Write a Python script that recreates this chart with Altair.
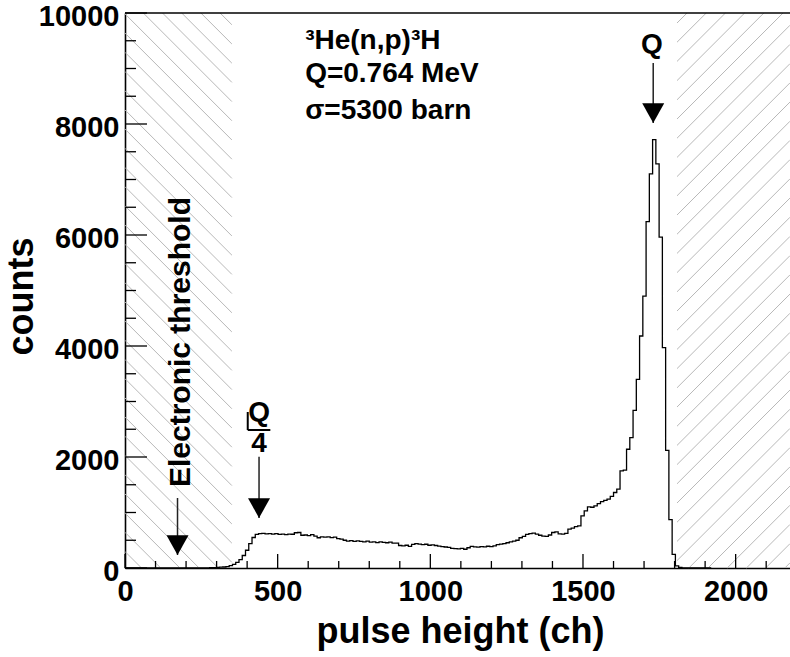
import altair as alt
import pandas as pd
import numpy as np

# ---------------- data ----------------
BIN_WIDTH = 2048 / 192          # channel width of one histogram bin
COUNTS = [
    0, 0, 0, 0, 0, 0, 0, 0, 0, 0,
    0, 0, 0, 0, 0, 0, 0, 0, 0, 0,
    0, 0, 0, 2, 3, 4, 6, 8, 10, 14,
    18, 25, 42, 65, 100, 150, 225, 320, 440, 550,
    605, 620, 625, 615, 620, 612, 618, 605, 610, 600,
    612, 608, 635, 640, 590, 595, 585, 600, 575, 545,
    560, 555, 560, 548, 555, 530, 520, 500, 485, 495,
    480, 490, 480, 470, 485, 465, 470, 458, 470, 462,
    455, 465, 450, 448, 405, 400, 410, 390, 425, 438,
    430, 420, 428, 410, 415, 405, 395, 385, 378, 370,
    355, 350, 345, 355, 338, 365, 390, 380, 375, 385,
    380, 392, 385, 400, 420, 430, 440, 455, 470, 485,
    500, 545, 570, 605, 620, 630, 610, 590, 575, 570,
    595, 640, 650, 615, 610, 625, 700, 720, 745, 760,
    940, 1030, 1100, 1095, 1120, 1160, 1195, 1220, 1240, 1290,
    1360, 1420, 1750, 1765, 2140, 2350, 2840, 3400, 4180, 4900,
    6240, 7100, 7720, 7280, 5960, 3970, 2120, 870, 245, 40,
    10, 4, 0, 0, 0, 0, 0, 0, 0, 0,
]

X_DOMAIN = [0, 2178]
Y_DOMAIN = [0, 10000]
X_MAJOR = [0, 500, 1000, 1500, 2000]
X_MINOR = [100, 200, 300, 400, 600, 700, 800, 900, 1100, 1200, 1300, 1400,
           1600, 1700, 1800, 1900, 2100]
Y_MAJOR = [0, 2000, 4000, 6000, 8000, 10000]
Y_MINOR = [500, 1000, 1500, 2500, 3000, 3500, 4500, 5000, 5500, 6500, 7000,
           7500, 8500, 9000, 9500]

VETO_LEFT = [0, 350]       # hatched (excluded) channel ranges
VETO_RIGHT = [1808, 2178]

INFO_TEXT = ["³He(n,p)³H", "Q=0.764 MeV", "σ=5300 barn"]
INFO_X = [590, 590, 590]
INFO_Y = [9355, 8757, 8095]

ARROW_X = [172, 439, 1730]
ARROW_TIP = [234, 901, 8018]
ARROW_TOP = [1261, 2005, 9099]

LABEL_TEXT = ["Q", "Q", "4"]
LABEL_X = [1726, 439, 439]
LABEL_Y = [9280, 2649, 2090]
FRAC_BAR_X = [402, 476]
FRAC_BAR_Y = 2486
FRAC_STROKE_Y = [2486, 2811]

THRESH_TEXT = "Electronic threshold"
THRESH_X = 184
THRESH_Y = 1459

# ---------------- layout ----------------
W, H = 665, 555
FONT = "Liberation Sans"

xs = alt.Scale(domain=X_DOMAIN, nice=False, zero=False)
ys = alt.Scale(domain=Y_DOMAIN, nice=False, zero=False)
X_AXIS = alt.Axis(values=X_MAJOR, title="pulse height (ch)", format="d",
                  titleX=335, titleY=74, titleBaseline="alphabetic",
                  titleAlign="center", labelPadding=9)
Y_AXIS = alt.Axis(values=Y_MAJOR, title="counts", titleAngle=270, format="d",
                  titleX=-93, titleY=283, titleBaseline="alphabetic",
                  titleAlign="center", labelPadding=6, labelOffset=3)


def X(field):
    return alt.X(field, scale=xs, axis=X_AXIS, title="pulse height (ch)")


def Y(field):
    return alt.Y(field, scale=ys, axis=Y_AXIS, title="counts")


# histogram as step line
edges = [k * BIN_WIDTH for k in range(len(COUNTS) + 1)]
hist_df = pd.DataFrame({"ch": edges, "counts": COUNTS + [COUNTS[-1]]})

# hatch lines for veto regions (pixel geometry -> data units)
px_per_ch = W / (X_DOMAIN[1] - X_DOMAIN[0])


def hatch(ch0, ch1, direction, offset, spacing=19.2):
    xa, xb = ch0 * px_per_ch, ch1 * px_per_ch
    rows = []
    for k in range(-80, 80):
        c = offset + spacing * k
        if direction == "back":      # x - y = c
            ylo, yhi = max(0, xa - c), min(H, xb - c)
            if yhi > ylo:
                rows.append((c + ylo, ylo, c + yhi, yhi))
        else:                        # x + y = c
            ylo, yhi = max(0, c - xb), min(H, c - xa)
            if yhi > ylo:
                rows.append((c - ylo, ylo, c - yhi, yhi))
    return [
        {"x": x1 / px_per_ch, "y": (H - y1) / H * Y_DOMAIN[1],
         "x2": x2 / px_per_ch, "y2": (H - y2) / H * Y_DOMAIN[1]}
        for x1, y1, x2, y2 in rows
    ]


hatch_df = pd.DataFrame(
    hatch(VETO_LEFT[0], VETO_LEFT[1], "back", 18.3)
    + hatch(VETO_RIGHT[0], VETO_RIGHT[1], "fwd", VETO_RIGHT[0] * px_per_ch + 10)
)

hatch_layer = alt.Chart(hatch_df).mark_rule(color="#b8b8b8", strokeWidth=1).encode(
    x=X("x:Q"), x2="x2:Q", y=Y("y:Q"), y2="y2:Q",
)

hist_layer = alt.Chart(hist_df).mark_line(
    interpolate="step-after", color="black", strokeWidth=1.3
).encode(x=X("ch:Q"), y=Y("counts:Q"))

# inside ticks
xmaj = alt.Chart(pd.DataFrame({"v": X_MAJOR})).mark_rule(color="black", strokeWidth=1.3).encode(
    x=X("v:Q"), y=alt.value(H), y2=alt.value(H - 14))
xmin = alt.Chart(pd.DataFrame({"v": X_MINOR})).mark_rule(color="black", strokeWidth=1.3).encode(
    x=X("v:Q"), y=alt.value(H), y2=alt.value(H - 7))
ymaj = alt.Chart(pd.DataFrame({"v": Y_MAJOR})).mark_rule(color="black", strokeWidth=1.3).encode(
    y=Y("v:Q"), x=alt.value(0), x2=alt.value(22))
ymin = alt.Chart(pd.DataFrame({"v": Y_MINOR})).mark_rule(color="black", strokeWidth=1.3).encode(
    y=Y("v:Q"), x=alt.value(0), x2=alt.value(11))

top_frame = alt.Chart(pd.DataFrame({"a": [0]})).mark_rule(color="black", strokeWidth=1.5).encode(
    x=alt.value(0), x2=alt.value(W), y=alt.value(0))

# info text
info_df = pd.DataFrame({"t": INFO_TEXT, "x": INFO_X, "y": INFO_Y})
info_layer = alt.Chart(info_df).mark_text(
    font=FONT, fontWeight="bold", fontSize=28, align="left", baseline="alphabetic", color="black"
).encode(x=X("x:Q"), y=Y("y:Q"), text="t:N")

# arrows
arrow_df = pd.DataFrame({"x": ARROW_X, "tip": ARROW_TIP, "top": ARROW_TOP})
shafts = alt.Chart(arrow_df).mark_rule(color="#222222", strokeWidth=1.5).encode(
    x=X("x:Q"), y=Y("top:Q"), y2="tip:Q")
heads = alt.Chart(arrow_df).mark_point(
    shape="M-1,-1.8L1,-1.8L0,0Z", filled=True, color="black", opacity=1, size=484, strokeWidth=0
).encode(x=X("x:Q"), y=Y("tip:Q"))

label_df = pd.DataFrame({"t": LABEL_TEXT, "x": LABEL_X, "y": LABEL_Y})
labels = alt.Chart(label_df).mark_text(
    font=FONT, fontWeight="bold", fontSize=28, align="center", baseline="alphabetic", color="black"
).encode(x=X("x:Q"), y=Y("y:Q"), text="t:N")

frac_bar = alt.Chart(pd.DataFrame({"x": [FRAC_BAR_X[0]], "x2": [FRAC_BAR_X[1]], "y": [FRAC_BAR_Y]})).mark_rule(
    color="black", strokeWidth=2).encode(x=X("x:Q"), x2="x2:Q", y=Y("y:Q"))
frac_stroke = alt.Chart(pd.DataFrame({"x": [FRAC_BAR_X[0]], "y": [FRAC_STROKE_Y[0]], "y2": [FRAC_STROKE_Y[1]]})).mark_rule(
    color="black", strokeWidth=2).encode(x=X("x:Q"), y=Y("y:Q"), y2="y2:Q")

thresh = alt.Chart(pd.DataFrame({"t": [THRESH_TEXT], "x": [THRESH_X], "y": [THRESH_Y]})).mark_text(
    font=FONT, fontWeight="bold", fontSize=30, align="left", baseline="middle", angle=270, color="black"
).encode(x=X("x:Q"), y=Y("y:Q"), text="t:N")

chart = alt.layer(
    hatch_layer, hist_layer, xmaj, xmin, ymaj, ymin, top_frame,
    info_layer, shafts, heads, labels, frac_bar, frac_stroke, thresh
).properties(
    width=W, height=H,
    autosize=alt.AutoSizeParams(type="none"),
    padding={"left": 125, "top": 13, "right": 0, "bottom": 89},
    background="white",
).configure_view(stroke=None).configure_axis(
    grid=False, ticks=False, tickSize=0,
    domainColor="black", domainWidth=1.6,
    labelFont=FONT, labelFontWeight="bold", labelFontSize=29, labelColor="black",
    titleFont=FONT, titleFontWeight="bold", titleFontSize=36, titleColor="black",
    labelFlush=False, labelOverlap=False,
)

chart.save("out.html", embed_options={"renderer": "svg", "actions": False})
